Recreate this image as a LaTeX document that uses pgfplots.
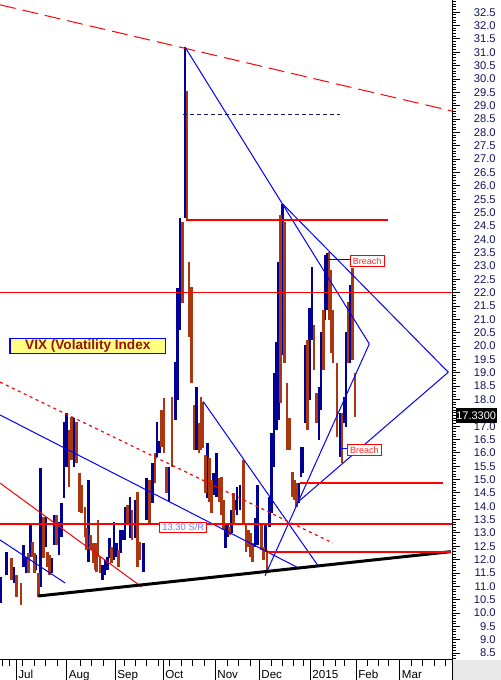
\documentclass[border=0pt]{standalone}
\usepackage{pgfplots}
\pgfplotsset{compat=1.18}
\usepackage{pgfplotstable}
\usepackage{fontspec}
\setmainfont{Liberation Sans}
\definecolor{upc}{RGB}{0,0,150}
\definecolor{dnc}{RGB}{170,55,15}
\definecolor{lblue}{RGB}{0,0,255}
\definecolor{navy}{RGB}{20,20,90}
\definecolor{vixred}{RGB}{150,20,20}
\definecolor{vixyel}{RGB}{255,255,128}
\definecolor{srtext}{RGB}{120,120,255}
\definecolor{brred}{RGB}{255,40,40}
\pgfplotstableread{
x lo hi
1 10.38 11.35
6.5 11.43 12.29
14 11.13 11.72
23.3 11.72 12.55
26 11.50 12.10
30.5 12.10 13.30
36 11.61 12.17
40.7 10.98 15.43
45.5 12.47 13.60
52 11.50 12.06
54.3 12.55 13.67
59 12.17 13.41
61.5 12.85 14.12
64 14.31 17.16
66.7 15.47 17.49
74 15.47 17.31
88.7 11.91 14.98
102.3 11.24 11.80
105 11.43 11.99
107.3 11.61 12.10
109.5 12.06 12.81
114 11.99 13.41
116.5 12.10 12.62
120.5 12.25 13.11
122.7 12.74 13.11
125 12.74 13.97
130 12.81 14.35
135 12.81 14.23
143.3 11.54 12.62
146.7 13.49 15.06
152.7 14.12 15.62
157 15.85 17.16
159.3 15.99 16.44
169 14.16 15.47
175.5 17.23 19.40
177.7 17.98 22.17
180 20.60 24.80
185 24.80 31.20
196.3 16.11 18.47
207.7 14.31 16.37
213.7 14.42 15.25
216.7 14.35 15.99
225.5 12.44 13.37
227.5 12.85 13.30
231.3 13.00 13.86
235.5 13.86 14.23
237 13.67 14.72
240 13.86 14.80
255 12.47 13.56
257.7 12.55 14.80
265.3 12.29 13.30
269.5 13.22 14.35
271.5 13.75 16.74
274 15.47 18.99
276.3 16.86 20.15
278.5 17.23 23.15
282.7 19.66 25.32
299 14.12 14.87
301 15.10 16.22
303 15.25 16.22
305.7 17.12 20.04
309.7 17.98 21.43
312 20.23 22.96
319 16.48 18.47
321 17.60 20.53
325 20.98 23.41
327 21.35 23.49
340 15.85 17.49
344 17.12 18.09
346 16.97 20.53
350 19.37 22.29
}\upbars
\pgfplotstableread{
x lo hi
11.7 11.24 12.06
16.7 10.60 11.43
21 10.30 11.13
28.7 11.50 12.25
32.5 12.10 12.66
34.5 11.50 12.25
38.3 10.60 11.50
43.3 12.06 13.60
47.5 11.72 12.29
49.5 11.43 12.17
56.7 12.55 13.67
69 14.72 16.86
71.7 15.73 17.34
76.7 15.62 17.16
79.7 13.79 15.25
81.7 13.75 14.80
85 12.85 13.97
86.7 12.36 13.19
90.5 12.36 12.92
93.3 11.88 12.62
95 11.61 12.29
96.7 11.54 12.62
98 12.10 13.49
100 11.50 12.10
111.7 11.88 12.47
118.5 11.72 12.36
127.5 13.37 14.05
132 12.74 13.86
137.3 11.72 14.53
140 11.99 12.66
149.5 13.30 14.98
155 14.87 15.99
161.5 16.22 17.60
164 15.99 18.05
166.7 14.50 15.47
172 15.47 18.09
182.5 21.61 24.65
187 24.72 29.55
189 20.34 23.15
191.3 18.62 22.21
194 16.11 17.79
199 15.99 17.12
201 16.11 18.09
203 16.18 17.91
205.3 14.50 15.92
209.7 14.16 15.81
211.7 13.75 14.98
219.3 14.16 15.06
221.3 13.67 15.10
223.5 13.11 14.23
229.3 12.92 13.22
233.5 13.37 14.50
243.3 13.30 15.73
246 12.29 13.37
248.3 12.47 13.11
250.3 12.10 13.00
252.7 11.91 12.62
261.7 12.36 13.37
263.5 11.99 12.47
267 11.50 12.36
280.7 17.87 24.91
284.7 19.37 24.65
287 16.11 18.62
289.5 16.11 17.31
292.5 14.35 15.28
294.5 14.23 14.98
296.5 13.97 14.87
307.7 16.86 20.23
314 19.10 20.79
316.5 17.12 18.24
323.3 19.10 21.35
329 20.98 23.52
330.8 19.74 22.85
333 19.37 21.35
337 16.59 19.37
341.8 15.62 17.49
348 19.37 21.65
352.3 19.48 22.92
355 17.34 18.99
}\dnbars
\begin{document}
\begin{tikzpicture}
\path[use as bounding box] (0,-10pt) rectangle (250.5pt,330pt);
\fill[gray!18] (226pt,-10pt) rectangle (250.5pt,0pt);
\begin{axis}[
  at={(0,0)}, anchor=south west,
  scale only axis, width=226pt, height=330pt,
  xmin=0, xmax=452, ymin=8.243, ymax=32.96,
  clip=false,
  axis x line*=bottom, axis y line*=right,
  axis line style={-, black, line width=0.5pt},
  tick align=outside,
  major tick length=4pt, minor tick length=2pt,
  xtick style={black, line width=0.5pt, /pgfplots/major tick length=10pt, /pgfplots/minor tick length=3pt},
  ytick style={black, line width=0.5pt},
  xtick={16,66.5,115,163,215,259,310,356,399.5},
  xticklabels={Jul,Aug,Sep,Oct,Nov,Dec,2015,Feb,Mar},
  minor xtick={2.5,9,22.9,34.4,45.9,57.3,80.3,91.8,103.3,124,135.4,146.9,158.4,169.9,181.4,192.9,204.4,227.3,238.8,250.3,271,282.5,293.9,303.1,323.8,335.3,344.5,367.4,378.9,388.1,411.1,422.6,434,445.5},
  ytick distance=0.5, minor y tick num=4,
  xticklabel style={font=\fontsize{5.8}{6}\selectfont, text=black, anchor=north west, inner sep=0pt, xshift=1pt},
  xticklabel shift=1pt,
  yticklabel style={font=\fontsize{5.6}{6}\selectfont, text=navy, anchor=east, inner sep=0pt,
    /pgf/number format/.cd, fixed, fixed zerofill, precision=1, assume math mode=true},
  yticklabel shift=18pt,
]
% OHLC ranges (low to high)
\addplot[draw=none, mark=none, forget plot, error bars/.cd, y dir=both, y explicit, error mark=none,
  error bar style={line width=1.3pt, draw=upc}]
  table[x=x, y expr={(\thisrow{lo}+\thisrow{hi})/2}, y error expr={(\thisrow{hi}-\thisrow{lo})/2}] {\upbars};
\addplot[draw=none, mark=none, forget plot, error bars/.cd, y dir=both, y explicit, error mark=none,
  error bar style={line width=1.3pt, draw=dnc}]
  table[x=x, y expr={(\thisrow{lo}+\thisrow{hi})/2}, y error expr={(\thisrow{hi}-\thisrow{lo})/2}] {\dnbars};
% trend lines
\addplot[red, line width=0.5pt, dash pattern=on 8pt off 3.5pt] coordinates {(0,32.78) (452,28.80)};
\addplot[navy, line width=0.5pt, dash pattern=on 2pt off 1.5pt] coordinates {(183,28.69) (340,28.69)};
\addplot[lblue, line width=0.5pt] coordinates {(185,31.20) (369.3,20.08)};
\addplot[lblue, line width=0.5pt] coordinates {(282.7,25.32) (448.3,19.02)};
\addplot[lblue, line width=0.5pt] coordinates {(265,11.40) (369.3,20.08)};
\addplot[lblue, line width=0.5pt] coordinates {(296.7,14.12) (448.3,19.02)};
\addplot[lblue, line width=0.5pt] coordinates {(0,17.42) (297,11.72)};
\addplot[lblue, line width=0.5pt] coordinates {(0,12.74) (65,11.13)};
\addplot[lblue, line width=0.5pt] coordinates {(203.3,17.92) (318.3,11.76)};
\addplot[red, line width=0.5pt] coordinates {(0,14.87) (141.7,10.98)};
\addplot[red, line width=0.6pt, dash pattern=on 1.5pt off 1.8pt] coordinates {(0,18.65) (333,12.62)};
\addplot[black, line width=1.5pt] coordinates {(38.3,10.64) (450.7,12.30)};
% horizontal support / resistance
\addplot[red, line width=0.6pt] coordinates {(186,24.72) (388,24.72)};
\addplot[red, line width=0.6pt] coordinates {(0,22.0) (452,22.0)};
\addplot[red, line width=1.1pt] coordinates {(300,14.88) (443,14.88)};
\addplot[red, line width=1.1pt] coordinates {(0,13.33) (452,13.33)};
\addplot[red, line width=1.1pt] coordinates {(266.7,12.30) (450.7,12.30)};
\addplot[lblue, line width=0.5pt] coordinates {(328.3,23.25) (350,23.25)};
\addplot[lblue, line width=0.5pt] coordinates {(340,16.17) (347.3,16.17)};
% labels
\node[fill=vixyel, draw=lblue, line width=0.6pt, minimum width=77.8pt, minimum height=7.5pt, inner sep=0pt,
  font=\bfseries\fontsize{6.8}{7}\selectfont, text=vixred] at (axis cs:87.8,20.01) {VIX (Volatility Index};
\node[fill=white, draw=red, line width=0.5pt, minimum width=23.4pt, minimum height=5pt, inner sep=0pt,
  font=\fontsize{4.7}{5}\selectfont, text=srtext] at (axis cs:183.3,13.21) {13.30 S/R};
\node[fill=white, draw=red, line width=0.5pt, minimum width=17.2pt, minimum height=5.2pt, inner sep=0pt,
  font=\fontsize{4.5}{5}\selectfont, text=brred] at (axis cs:367.2,23.19) {Breach};
\node[fill=white, draw=red, line width=0.5pt, minimum width=17.2pt, minimum height=5.2pt, inner sep=0pt,
  font=\fontsize{4.5}{5}\selectfont, text=brred] at (axis cs:364.3,16.11) {Breach};
\node[fill=black, text=white, minimum width=20.5pt, minimum height=7.5pt, inner sep=0pt,
  font=\fontsize{5.5}{6}\selectfont] at (axis cs:476.2,17.39) {17.3300};
\end{axis}
\draw[black, line width=0.5pt] (226pt,-10pt) -- (226pt,0pt);
\end{tikzpicture}
\end{document}
